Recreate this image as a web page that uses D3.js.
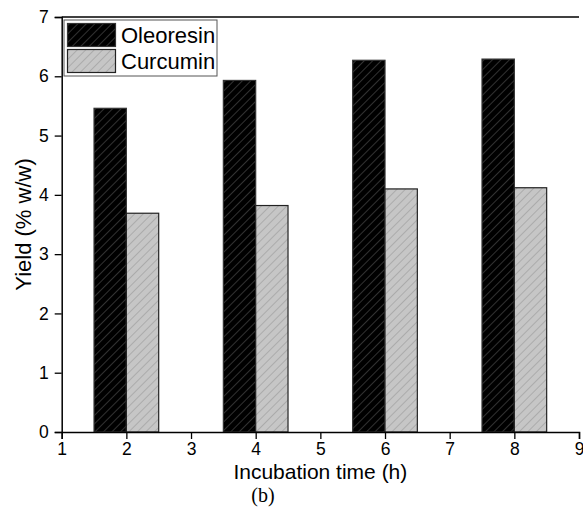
<!DOCTYPE html>
<html>
<head>
<meta charset="utf-8">
<script src="https://cdn.jsdelivr.net/npm/d3@7/dist/d3.min.js"></script>
<style>
  html, body { margin: 0; padding: 0; background: #ffffff; }
  svg { display: block; }
</style>
</head>
<body>
<script>
// Incubation times (h) and yields (% w/w)
const times = [2, 4, 6, 8];
const seriesNames = ["Oleoresin", "Curcumin"];
const oleoresin = [5.46, 5.93, 6.27, 6.29];
const curcumin = [3.69, 3.82, 4.10, 4.12];
const xTicks = [1, 2, 3, 4, 5, 6, 7, 8, 9];
const yTicks = [0, 1, 2, 3, 4, 5, 6, 7];

const W = 583, H = 525;
const margin = { left: 61.7, right: 4, top: 17, bottom: 93 };

const svg = d3.select("body").append("svg")
  .attr("width", W).attr("height", H);

const x = d3.scaleLinear().domain([1, 9]).range([margin.left, W - margin.right]);
const y = d3.scaleLinear().domain([0, 7]).range([H - margin.bottom, margin.top]);

// Hatch patterns
const defs = svg.append("defs");
function hatch(id, bg, line) {
  const p = defs.append("pattern")
    .attr("id", id)
    .attr("patternUnits", "userSpaceOnUse")
    .attr("width", 6).attr("height", 6)
    .attr("patternTransform", "rotate(45)");
  p.append("rect").attr("width", 6).attr("height", 6).attr("fill", bg);
  p.append("line").attr("x1", 0).attr("y1", 0).attr("x2", 0).attr("y2", 6)
    .attr("stroke", line).attr("stroke-width", 0.9);
}
hatch("hatchBlack", "#000000", "#6e6e6e");
hatch("hatchGray", "#c6c6c6", "#8a8a8a");
const fills = ["url(#hatchBlack)", "url(#hatchGray)"];
const strokes = ["#333333", "#222222"];

// Bars: each series occupies half a unit on either side of the time value
const barW = 0.5;
const series = [oleoresin, curcumin];
series.forEach((vals, si) => {
  svg.append("g").selectAll("rect")
    .data(times.map((t, i) => ({ t, v: vals[i] })))
    .join("rect")
    .attr("x", d => x(si === 0 ? d.t - barW : d.t))
    .attr("width", d => x(d.t + barW) - x(d.t))
    .attr("y", d => y(d.v))
    .attr("height", d => y(0) - y(d.v))
    .attr("fill", fills[si])
    .attr("stroke", strokes[si])
    .attr("stroke-width", 1.2);
});

const font = "Liberation Sans, Arial, sans-serif";

// X axis with major and minor ticks
const xAxis = svg.append("g").attr("transform", `translate(0,${y(0)})`);
xAxis.call(d3.axisBottom(x).tickValues(d3.range(1.5, 9, 1)).tickSize(4).tickFormat(""));
xAxis.call(d3.axisBottom(x).tickValues(xTicks).tickSize(7).tickPadding(4).tickFormat(d3.format("d")));
xAxis.selectAll(".domain").attr("stroke", "#000").attr("stroke-width", 1.5);
xAxis.selectAll(".tick line").attr("stroke", "#000").attr("stroke-width", 1.3);
xAxis.selectAll("text").attr("font-family", font).attr("font-size", 17.5).attr("fill", "#000");

// Y axis with major and minor ticks
const yAxis = svg.append("g").attr("transform", `translate(${x(1)},0)`);
yAxis.call(d3.axisLeft(y).tickValues(d3.range(0.5, 7, 1)).tickSize(4).tickFormat(""));
yAxis.call(d3.axisLeft(y).tickValues(yTicks).tickSize(7).tickPadding(6).tickFormat(d3.format("d")));
yAxis.selectAll(".domain").attr("stroke", "#000").attr("stroke-width", 1.5);
yAxis.selectAll(".tick line").attr("stroke", "#000").attr("stroke-width", 1.3);
yAxis.selectAll("text").attr("font-family", font).attr("font-size", 17.5).attr("fill", "#000");

// Top frame line
svg.append("line")
  .attr("x1", x(1)).attr("x2", x(9)).attr("y1", y(7)).attr("y2", y(7))
  .attr("stroke", "#000").attr("stroke-width", 1.5);

// Axis titles
svg.append("text")
  .attr("x", (x(1) + x(9)) / 2).attr("y", 479)
  .attr("text-anchor", "middle")
  .attr("font-family", font).attr("font-size", 21).attr("fill", "#000")
  .text("Incubation time (h)");

svg.append("text")
  .attr("transform", `translate(31,${(y(0) + y(7)) / 2}) rotate(-90)`)
  .attr("text-anchor", "middle")
  .attr("font-family", font).attr("font-size", 22).attr("fill", "#000")
  .text("Yield (% w/w)");

svg.append("text")
  .attr("x", 263).attr("y", 502)
  .attr("text-anchor", "middle")
  .attr("font-family", "Liberation Serif, Times New Roman, serif")
  .attr("font-size", 20).attr("fill", "#000")
  .text("(b)");

// Legend
const legend = svg.append("g").attr("transform", "translate(64,20)");
legend.append("rect")
  .attr("width", 153).attr("height", 56)
  .attr("fill", "#fff").attr("stroke", "#555").attr("stroke-width", 1);
seriesNames.forEach((name, i) => {
  legend.append("rect")
    .attr("x", 3.5).attr("y", 3.5 + i * 26)
    .attr("width", 48).attr("height", 23)
    .attr("fill", fills[i]).attr("stroke", strokes[i]).attr("stroke-width", 1.2);
  legend.append("text")
    .attr("x", 57).attr("y", 23 + i * 26)
    .attr("font-family", font).attr("font-size", 22).attr("fill", "#000")
    .text(name);
});
</script>
</body>
</html>
